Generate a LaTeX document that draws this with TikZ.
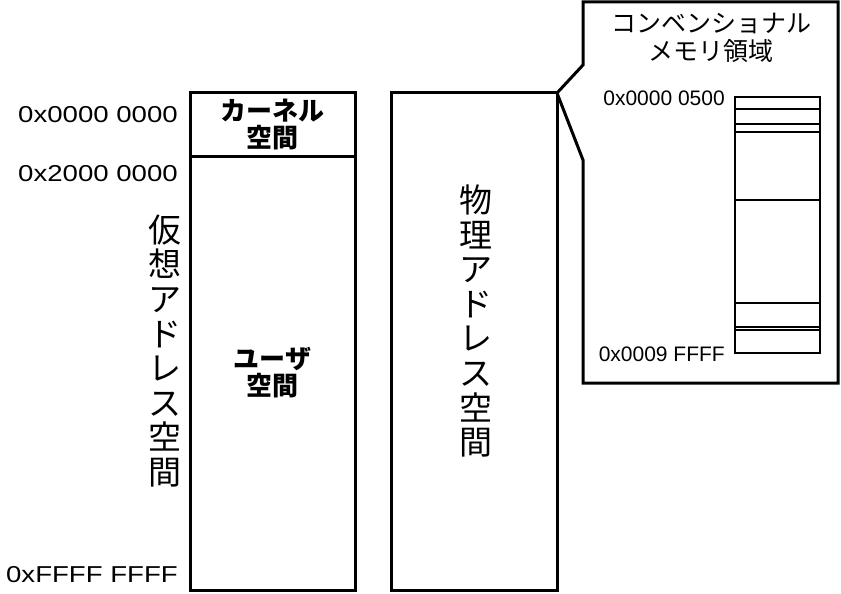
\documentclass[tikz,border=0pt]{standalone}
\usepackage{fontspec}
\setmainfont{Liberation Sans}
\newfontfamily\jpfont{Noto Sans CJK JP}
\usepackage{graphicx}
\usetikzlibrary{positioning}
\newcommand{\widehex}[1]{\scalebox{1.2}[1]{#1}}

\begin{document}
\begin{tikzpicture}
  [
    x=1pt, y=-1pt,
    Box/.style={rectangle, draw=black, line width=3pt, minimum width=165pt, inner sep=0pt, outer sep=0pt},
    Bold/.style={font=\jpfont\bfseries\fontsize{26}{27}\selectfont, align=center},
    Tall/.style={font=\jpfont\fontsize{33}{34.6}\selectfont, align=center, inner sep=0pt},
    Hex/.style={font=\fontsize{23}{25}\selectfont, inner sep=0pt, anchor=east},
    SmallHex/.style={font=\fontsize{21}{23}\selectfont, inner sep=0pt, anchor=east},
    Title/.style={font=\jpfont\fontsize{25}{28}\selectfont, align=center},
    Cell/.style={draw=black, line width=2.6pt}
  ]
  \useasboundingbox (0,0) rectangle (841,594);

  % Virtual space
  \node[Box, minimum height=63pt, Bold] (kernel) at (272.5,124.5) {カーネル\\空間};
  \node[Box, minimum height=434pt, Bold, below=0pt of kernel] (user) {ユーザ\\空間};
  \node[Tall] (virtlabel) at (165,351) {仮\\想\\ア\\ド\\レ\\ス\\空\\間};

  \node[Hex] (vtop) at (178,115) {\widehex{0x0000 0000}};
  \node[Hex] (vkern) at (178,174) {\widehex{0x2000 0000}};
  \node[Hex] (vend) at (178,575) {\widehex{0xFFFF FFFF}};

  % Physical space
  \node[Box, minimum width=166pt, minimum height=497pt, anchor=north west] (phys) at (391,93) {};
  \node[Tall] (physlabel) at (476,321) {物\\理\\ア\\ド\\レ\\ス\\空\\間};

  % Callout
  \coordinate (notchtop) at (583,65);
  \coordinate (notchbot) at (583,160);
  \draw[line width=3pt, line join=miter] (phys.north east) -- (notchtop) -- (583,2) -- (838,2)
    -- (838,383) -- (583,383) -- (notchbot) -- cycle;
  \node[Title] (title) at (711,38) {コンベンショナル\\メモリ領域};

  \foreach \ya/\yb in {97/109, 109/124, 124/132, 132/200, 200/303, 303/327, 327/330, 330/353}
    \draw[Cell] (735,\ya) rectangle (820,\yb);

  \node[SmallHex] (cstart) at (725,98) {0x0000 0500};
  \node[SmallHex] (cend) at (725,354) {0x0009 FFFF};

\end{tikzpicture}
\end{document}
